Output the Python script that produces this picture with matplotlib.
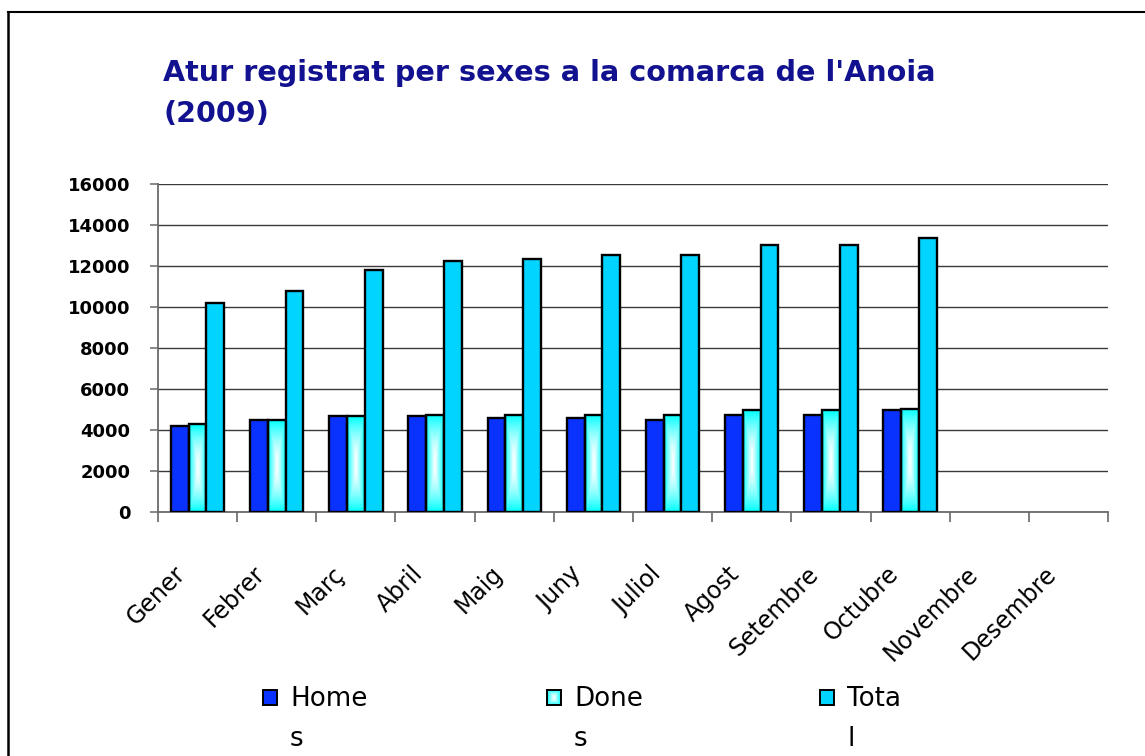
import numpy as np
import matplotlib
matplotlib.use("Agg")
import matplotlib.pyplot as plt
from matplotlib.patches import Rectangle
from matplotlib.lines import Line2D
from matplotlib.transforms import ScaledTranslation

# ---------------- data ----------------
months = ["Gener", "Febrer", "Març", "Abril", "Maig", "Juny", "Juliol",
          "Agost", "Setembre", "Octubre", "Novembre", "Desembre"]
homes = [4200, 4490, 4670, 4670, 4580, 4580, 4490, 4740, 4740, 4970, np.nan, np.nan]
dones = [4270, 4490, 4670, 4740, 4740, 4740, 4740, 4970, 4970, 5030, np.nan, np.nan]
total = [10190, 10780, 11790, 12260, 12350, 12530, 12530, 13010, 13010, 13370, np.nan, np.nan]
series_labels = ["Home\ns", "Done\ns", "Tota\nl"]
yticks = [0, 2000, 4000, 6000, 8000, 10000, 12000, 14000, 16000]
title = "Atur registrat per sexes a la comarca de l'Anoia\n(2009)"

# ---------------- style ----------------
c_homes = "#0A32FF"
c_dones = "#00FFFF"
c_total = "#00D4FF"
c_title = "#121290"

W, H = 1145, 756
fig = plt.figure(figsize=(W / 100, H / 100), dpi=100)


def fx(x):
    return x / W


def fy(y):
    return 1 - y / H


ax = fig.add_axes([fx(158), fy(511.7), fx(1108) - fx(158), fy(184) - fy(511.7)])

x = np.arange(len(months))
bw = 0.225
ec = "black"
lw = 1.7

b1 = ax.bar(x - bw, homes, bw, color=c_homes, edgecolor=ec, linewidth=lw, zorder=3)
b2 = ax.bar(x, dones, bw, facecolor="none", edgecolor=ec, linewidth=lw, zorder=3)
b3 = ax.bar(x + bw, total, bw, color=c_total, edgecolor=ec, linewidth=lw, zorder=3)

# gradient fill (cyan edges -> white centre) for "Dones" bars
ny, nx = 120, 40
u = np.linspace(-1, 1, nx)[None, :]
v = np.linspace(-1, 1, ny)[:, None]
t = np.clip(np.maximum(np.abs(u) ** 1.1, np.abs(v) ** 1.6), 0, 1)
cy = np.array([0.0, 1.0, 1.0])
wh = np.array([1.0, 1.0, 1.0])
grad = wh[None, None, :] * (1 - t[..., None]) + cy[None, None, :] * t[..., None]
for p in b2.patches:
    h = p.get_height()
    if not np.isfinite(h):
        continue
    ax.imshow(grad, extent=[p.get_x(), p.get_x() + p.get_width(), 0, h],
              aspect="auto", zorder=2.5, interpolation="bilinear", origin="lower")

ax.set_xlim(-0.5, len(months) - 0.5)
ax.set_ylim(0, 16000)
ax.set_aspect("auto")

# axes styling
for s in ["top", "right"]:
    ax.spines[s].set_visible(False)
for s in ["left", "bottom"]:
    ax.spines[s].set_color("#6a6a6a")
    ax.spines[s].set_linewidth(1.3)
ax.set_axisbelow(True)
ax.yaxis.grid(True, color="#3a3a3a", linewidth=1.0, zorder=0)

ax.set_yticks(yticks)
ax.set_yticklabels([str(v_) for v_ in yticks], fontsize=13, fontweight="bold",
                   family="DejaVu Sans")
ax.tick_params(axis="y", length=6, width=1.1, color="#6a6a6a", pad=14)

# x: labels at centres, ticks at boundaries
ax.set_xticks(x)
ax.set_xticklabels(months, rotation=45, ha="right", va="top",
                   rotation_mode="anchor", fontsize=17, family="DejaVu Sans")
ax.tick_params(axis="x", which="major", length=0, pad=36)
ax.set_xticks(np.arange(-0.5, len(months), 1.0), minor=True)
ax.tick_params(axis="x", which="minor", length=7, width=1.1, color="#5a5a5a")
shift = ScaledTranslation(-0.24, 0, fig.dpi_scale_trans)
for lab in ax.get_xticklabels():
    lab.set_transform(lab.get_transform() + shift)

# title
fig.text(fx(163), fy(59), title, ha="left", va="top", fontsize=20.6,
         fontweight="bold", color=c_title, family="DejaVu Sans", linespacing=1.6)

# legend (manual, figure coordinates)
leg_x = [263, 547, 820]
leg_cols = [c_homes, None, c_total]
for i, (lx, col, lab) in enumerate(zip(leg_x, leg_cols, series_labels)):
    sq_w, sq_h = 14, 15
    sq_top = 690
    if col is None:
        axl = fig.add_axes([fx(lx), fy(sq_top + sq_h), fx(sq_w), sq_h / H])
        axl.imshow(grad, aspect="auto", extent=[0, 1, 0, 1], interpolation="bilinear")
        axl.set_xticks([]); axl.set_yticks([])
        for s in axl.spines.values():
            s.set_linewidth(1.4); s.set_color("black")
    else:
        fig.add_artist(Rectangle((fx(lx), fy(sq_top + sq_h)), fx(sq_w), sq_h / H,
                                 transform=fig.transFigure, facecolor=col,
                                 edgecolor="black", linewidth=1.4))
    fig.text(fx(lx + 27), fy(686), lab, ha="left", va="top", fontsize=18.8,
             family="DejaVu Sans", linespacing=1.68)

# outer frame (top and left edges)
fig.add_artist(Line2D([fx(8), 1.0], [fy(12), fy(12)], transform=fig.transFigure,
                      color="black", linewidth=1.5))
fig.add_artist(Line2D([fx(8), fx(8)], [fy(12), 0.0], transform=fig.transFigure,
                      color="black", linewidth=1.8))

fig.savefig("out.png", dpi=100)
